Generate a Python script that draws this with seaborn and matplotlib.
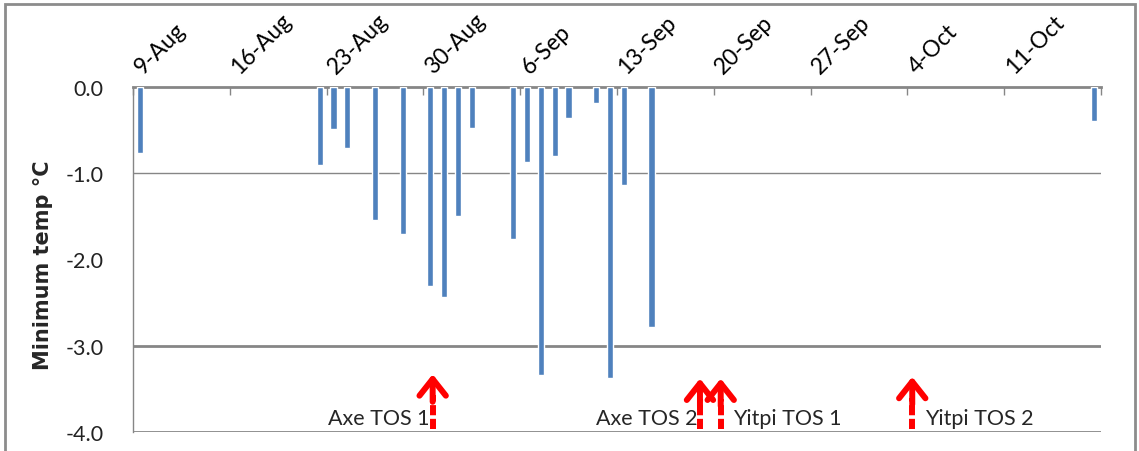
import matplotlib
matplotlib.use("Agg")
import matplotlib.pyplot as plt
import matplotlib.patches as mpatches
from matplotlib.transforms import ScaledTranslation
import pandas as pd
import seaborn as sns

# frost days and minimum temperature (deg C)
frost_dates = ['9-Aug', '22-Aug', '23-Aug', '24-Aug', '26-Aug', '28-Aug', '30-Aug',
               '31-Aug', '1-Sep', '2-Sep', '5-Sep', '6-Sep', '7-Sep', '8-Sep',
               '9-Sep', '11-Sep', '12-Sep', '13-Sep', '15-Sep', '17-Oct']
min_temp = [-0.76, -0.91, -0.49, -0.71, -1.54, -1.70, -2.31,
            -2.44, -1.49, -0.48, -1.76, -0.87, -3.34, -0.80,
            -0.36, -0.18, -3.37, -1.14, -2.78, -0.39]

tick_labels = ['9-Aug', '16-Aug', '23-Aug', '30-Aug', '6-Sep', '13-Sep',
               '20-Sep', '27-Sep', '4-Oct', '11-Oct']

# sowing times (days after 9-Aug)
sowing_labels = ['Axe TOS 1', 'Axe TOS 2', 'Yitpi TOS 1', 'Yitpi TOS 2']
sowing_days = [21.67, 41.0, 42.5, 56.35]
arrow_tips = [-3.33, -3.38, -3.38, -3.36]

YEAR = 2010
start = pd.to_datetime(f'9-Aug-{YEAR}', format='%d-%b-%Y')
days = [(pd.to_datetime(f'{d}-{YEAR}', format='%d-%b-%Y') - start).days + 0.5
        for d in frost_dates]
df = pd.DataFrame({'day': days, 'temp': min_temp})

sns.set_style('white')
plt.rcParams['font.family'] = ['Lato', 'DejaVu Sans']

fig = plt.figure(figsize=(11.39, 4.52), dpi=100)
ax = fig.add_axes([133 / 1139, 1 - 433 / 452, 968 / 1139, 345 / 452])

sns.barplot(data=df, x='day', y='temp', native_scale=True, orient='x',
            width=0.45, color='#4F81BD', saturation=1, ax=ax, zorder=3)

grid = '#868686'
ax.set_xlim(0, 70)
ax.set_ylim(-4, 0)
for yv, lw in [(-1, 1.0), (-3, 2.0), (-4, 2.0)]:
    ax.axhline(yv, color=grid, lw=lw, zorder=1)

for s in ['bottom', 'right']:
    ax.spines[s].set_visible(False)
ax.spines['top'].set_color(grid)
ax.spines['top'].set_linewidth(2)
ax.spines['left'].set_color(grid)
ax.spines['left'].set_linewidth(1)

ax.set_yticks([0, -1, -2, -3, -4])
ax.set_yticklabels(['0.0', '-1.0', '-2.0', '-3.0', '-4.0'])
ax.tick_params(axis='y', direction='out', length=5, color=grid, width=1,
               labelsize=15.5, pad=16, labelcolor='#222222')

ax.set_xticks(range(0, 71, 7))
ax.set_xticklabels(tick_labels + [''])
ax.xaxis.tick_top()
ax.tick_params(axis='x', direction='in', length=6, color=grid, width=1,
               labelsize=16.5, pad=7, labelcolor='black')
shift = ScaledTranslation(9 / 72, 0, fig.dpi_scale_trans)
for lab in ax.get_xticklabels():
    lab.set_rotation(45)
    lab.set_rotation_mode('anchor')
    lab.set_ha('left')
    lab.set_va('bottom')
    lab.set_transform(lab.get_transform() + shift)

ax.set_xlabel('')
ax.set_ylabel('Minimum temp °C', fontsize=15, fontweight='bold',
              family=['DejaVu Sans'])
ax.yaxis.set_label_coords(-0.083, 0.487)

# sowing arrows
for lab, xd, tip in zip(sowing_labels, sowing_days, arrow_tips):
    ax.plot([xd, xd], [-3.97, tip - 0.24], color='red', lw=4.3,
            linestyle=(0, (1.7, 0.6)), solid_capstyle='butt', zorder=4)
    ax.annotate('', xy=(xd, tip), xytext=(xd, tip - 0.32),
                arrowprops=dict(arrowstyle='->,head_length=1.2,head_width=0.95',
                                color='red', lw=4.3, shrinkA=0, shrinkB=0,
                                mutation_scale=10, joinstyle='round'),
                zorder=4)
    if lab.startswith('Axe'):
        ax.text(xd - 0.2, -3.84, lab, ha='right', va='center', fontsize=15.5, zorder=5)
    else:
        ax.text(xd + 0.9, -3.84, lab, ha='left', va='center', fontsize=15.5, zorder=5)

# chart area border
fig.patches.append(mpatches.Rectangle((5 / 1139, -0.1), 1130 / 1139, 1.1 - 5 / 452,
                                      transform=fig.transFigure, fill=False,
                                      edgecolor='#8c8c8c', lw=2))

fig.savefig('out.png', dpi=100)
